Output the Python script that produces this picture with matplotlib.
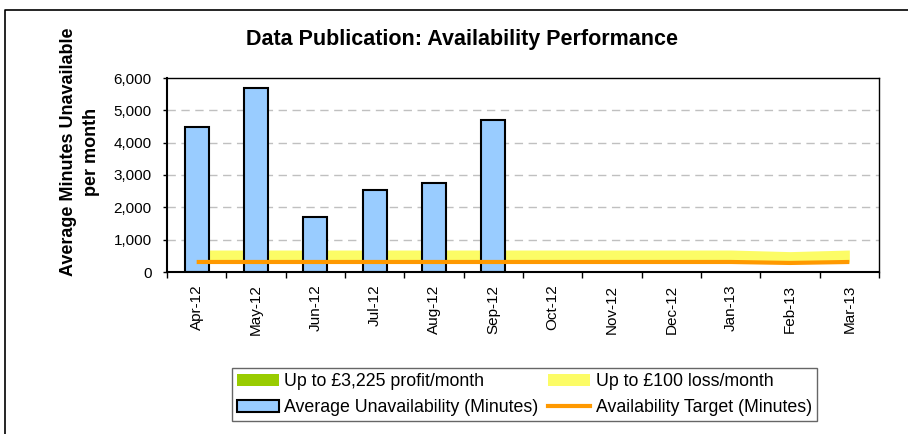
import numpy as np
import matplotlib.pyplot as plt
from matplotlib.lines import Line2D
from matplotlib.patches import Patch
from matplotlib.ticker import FuncFormatter

plt.rcParams['font.family'] = ['Liberation Sans', 'DejaVu Sans']

months = ['Apr-12', 'May-12', 'Jun-12', 'Jul-12', 'Aug-12', 'Sep-12',
          'Oct-12', 'Nov-12', 'Dec-12', 'Jan-13', 'Feb-13', 'Mar-13']
unavailability = [4500, 5700, 1700, 2540, 2750, 4700]
target = [310, 310, 310, 310, 310, 310, 310, 310, 310, 310, 280, 310]
profit_band = [0] * 12
loss_upper = [680, 680, 680, 680, 680, 680, 680, 680, 680, 680, 630, 680]

fig = plt.figure(figsize=(9.08, 4.34), dpi=100)
ax = fig.add_axes([167 / 908, 1 - 272 / 434, 712 / 908, 194 / 434])

x = np.arange(len(months))
# areas behind the bars
ax.fill_between(x, 0, profit_band, color='#99cc00', lw=0, zorder=1)
ax.fill_between(x, target, loss_upper, color='#fcfc66', lw=0, zorder=1)
ax.bar(x[:len(unavailability)], unavailability, width=0.4, color='#99ccff',
       edgecolor='black', linewidth=1.5, zorder=2)
ax.plot(x, target, color='#ff9900', lw=3, zorder=3, solid_capstyle='butt')

ax.set_xlim(-0.5, 11.5)
ax.set_ylim(0, 6000)
ax.set_yticks(np.arange(0, 6001, 1000))
ax.yaxis.set_major_formatter(FuncFormatter(lambda v, p: f'{int(v):,}'))
ax.set_xticks(x)
ax.set_xticklabels(months, rotation=90, fontsize=11)
ax.set_xticks(np.arange(-0.5, 12, 1), minor=True)
ax.tick_params(axis='x', which='major', length=0, pad=9)
ax.tick_params(axis='x', which='minor', length=4, width=1, direction='out')
ax.tick_params(axis='y', length=3, width=1, direction='out', labelsize=11, pad=8)

for v in range(1000, 6000, 1000):
    ax.axhline(v, color='#c0c0c0', lw=1, ls=(0, (6, 4)), zorder=0)

for s in ['left', 'bottom']:
    ax.spines[s].set_linewidth(1.5)
for s in ['top', 'right']:
    ax.spines[s].set_linewidth(1)

fig.text(462 / 908, 1 - 40 / 434, 'Data Publication: Availability Performance',
         ha='center', va='center', fontsize=15.5, fontweight='bold')
fig.text(80 / 908, 1 - 152 / 434, 'Average Minutes Unavailable\nper month',
         ha='center', va='center', rotation=90, fontsize=13,
         fontweight='bold', linespacing=1.45)

handles = [
    Patch(facecolor='#99cc00', edgecolor='none'),
    Patch(facecolor='#fcfc66', edgecolor='none'),
    Patch(facecolor='#99ccff', edgecolor='black', linewidth=1.5),
    Line2D([], [], color='#ff9900', lw=3),
]
labels = ['Up to £3,225 profit/month', 'Up to £100 loss/month',
          'Average Unavailability (Minutes)', 'Availability Target (Minutes)']
# reorder so rows read left to right
order = [0, 2, 1, 3]
leg = fig.legend([handles[i] for i in order], [labels[i] for i in order],
                 ncol=2, loc='center', bbox_to_anchor=(524.5 / 908, 1 - 394.5 / 434),
                 fontsize=12.8, frameon=True, fancybox=False, edgecolor='#404040',
                 handlelength=2.35, handleheight=0.7, columnspacing=0.55,
                 labelspacing=0.5, borderpad=0.3, handletextpad=0.3)
leg.get_frame().set_linewidth(1)

# outer chart border (top and left are visible)
fig.add_artist(Line2D([5 / 908, 5 / 908, 1.1], [-0.1, 1 - 10 / 434, 1 - 10 / 434],
                      transform=fig.transFigure, color='black', lw=1.2))

fig.savefig('out.png', dpi=100)
